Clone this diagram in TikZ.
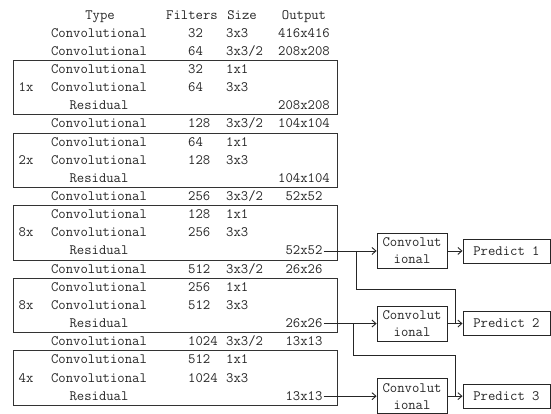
\documentclass[tikz,border=0pt]{standalone}
\usepackage{fontspec}
\usetikzlibrary{arrows.meta, positioning}

\begin{document}
\begin{tikzpicture}[
  x=1pt, y=-1pt,
  font=\ttfamily\fontsize{14.3}{17}\selectfont,
  cell/.style={inner sep=1pt, text=black!85, text height=9pt, text depth=1pt},
  group/.style={draw=black!80, line width=0.9pt},
  convbox/.style={draw=black!85, line width=0.9pt, align=center, minimum width=70pt, minimum height=35pt, inner sep=1pt, text=black!85},
  predbox/.style={draw=black!85, line width=0.9pt, minimum width=87pt, minimum height=24pt, text=black!85},
  link/.style={draw=black!85, line width=0.9pt},
  >={Straight Barb[length=4pt,width=7pt]}
]
\useasboundingbox (0,0) rectangle (551,413);
\node[cell] (h-type) at (100,15) {Type};
\node[cell] (h-fil) at (192,15) {Filters};
\node[cell] (h-size) at (242,15) {Size};
\node[cell] (h-out) at (304,15) {Output};
\foreach \i/\t/\f/\s/\o in {
  1/Convolutional/32/3x3/416x416,
  2/Convolutional/64/{3x3/2}/208x208,
  3/Convolutional/32/1x1/{},
  4/Convolutional/64/3x3/{},
  5/Residual/{}/{}/208x208,
  6/Convolutional/128/{3x3/2}/104x104,
  7/Convolutional/64/1x1/{},
  8/Convolutional/128/3x3/{},
  9/Residual/{}/{}/104x104,
  10/Convolutional/256/{3x3/2}/52x52,
  11/Convolutional/128/1x1/{},
  12/Convolutional/256/3x3/{},
  13/Residual/{}/{}/52x52,
  14/Convolutional/512/{3x3/2}/26x26,
  15/Convolutional/256/1x1/{},
  16/Convolutional/512/3x3/{},
  17/Residual/{}/{}/26x26,
  18/Convolutional/1024/{3x3/2}/13x13,
  19/Convolutional/512/1x1/{},
  20/Convolutional/1024/3x3/{},
  21/Residual/{}/{}/13x13}{
  \node[cell] (ty-\i) at (99,{15+18.15*\i}) {\t};
  \node[cell, anchor=west] (fi-\i) at (187,{15+18.15*\i}) {\f};
  \node[cell, anchor=west] (sz-\i) at (225,{15+18.15*\i}) {\s};
  \node[cell] (op-\i) at (304,{15+18.15*\i}) {\o};
}
\foreach \r/\m in {3/1x, 7/2x, 11/8x, 15/8x, 19/4x}{
  \draw[group] (13,{15+18.15*(\r-0.5)}) rectangle (337,{15+18.15*(\r+2.5)});
  \node[cell] (mul-\r) at (26,{15+18.15*(\r+1)}) {\m};
}
\node[convbox, right=53pt of op-13] (cv1) {Convolut\\ional};
\node[predbox, right=15pt of cv1] (pr1) {Predict 1};
\node[convbox, right=53pt of op-17] (cv2) {Convolut\\ional};
\node[predbox, right=15pt of cv2] (pr2) {Predict 2};
\node[convbox, right=53pt of op-21] (cv3) {Convolut\\ional};
\node[predbox, right=15pt of cv3] (pr3) {Predict 3};
\draw[link, ->] (op-13) -- (cv1);
\draw[link, ->] (op-17) -- (cv2);
\draw[link, ->] (op-21) -- (cv3);
\draw[link, ->] (cv1) -- (pr1);
\draw[link, ->] (cv2) -- (pr2);
\draw[link, ->] (cv3) -- (pr3);
\path (op-13.east) -- (cv1.west) coordinate[pos=0.62] (j1);
\path (op-17.east) -- (cv2.west) coordinate[pos=0.56] (j2);
\draw[link] (j1) -- ++(0,38) -| ([xshift=-7pt]pr2.west);
\draw[link] (j2) -- ++(0,32) -| ([xshift=-7pt]pr3.west);
\end{tikzpicture}
\end{document}
